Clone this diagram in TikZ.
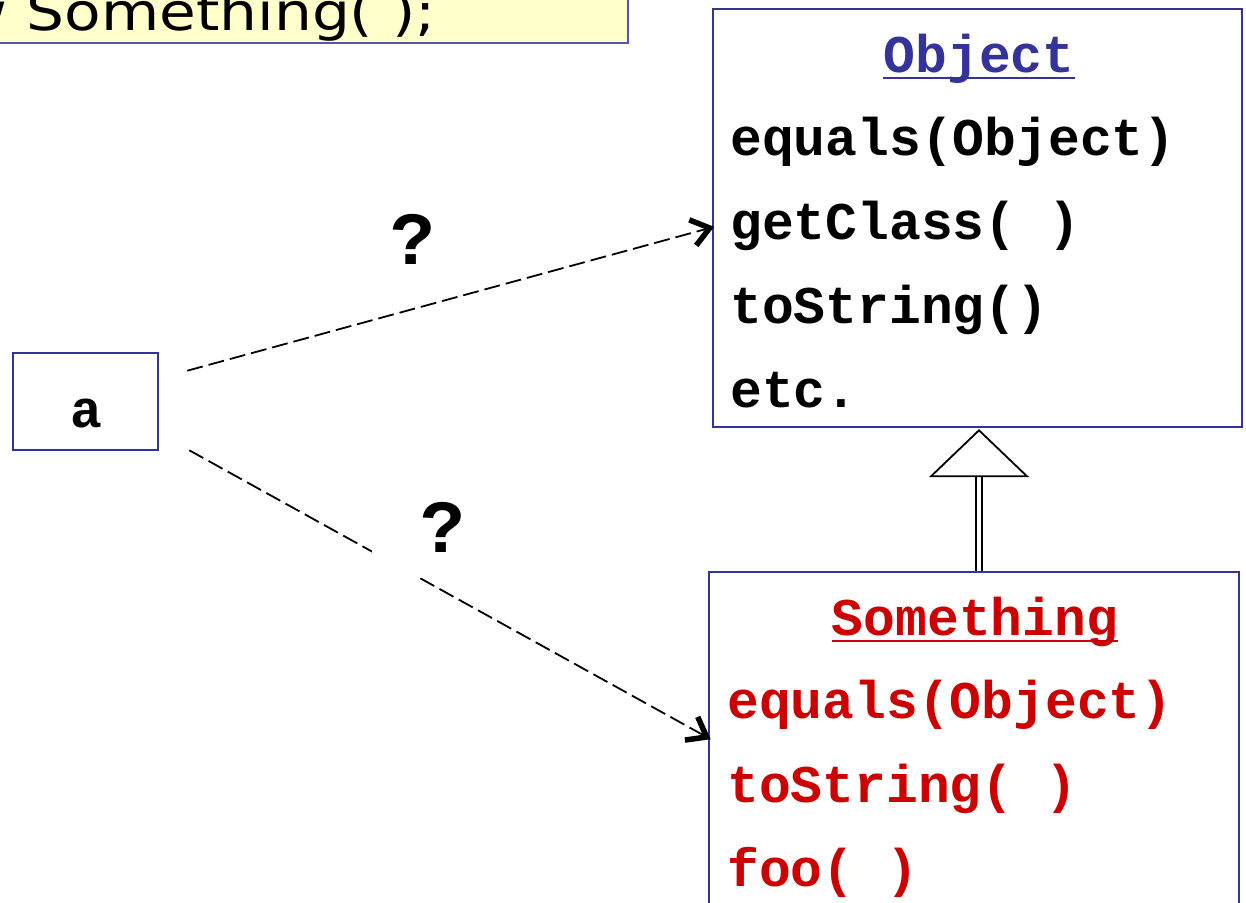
\documentclass[tikz,border=0pt]{standalone}
\usepackage{fontspec}
\setmonofont{Liberation Mono}
\newfontfamily\handfont[FakeStretch=1.15]{DejaVu Sans}
\usetikzlibrary{calc}
\definecolor{umlblue}{HTML}{333399}
\definecolor{umlred}{HTML}{CC0000}
\definecolor{notefill}{HTML}{FFFFCC}
\definecolor{noteline}{HTML}{5555AA}

\begin{document}
\begin{tikzpicture}[x=1pt,y=-1pt,
  classbox/.style={draw=umlblue, line width=2.6pt, fill=white, inner sep=0pt},
  member/.style={font=\fontsize{53}{60}\selectfont\ttfamily\bfseries, inner sep=0pt, anchor=base west},
  classname/.style={member, anchor=base},
  query/.style={font=\fontsize{75}{80}\selectfont\ttfamily\bfseries, inner sep=0pt},
  call/.style={dash pattern=on 16pt off 6pt, line width=1.8pt},
  barb/.style={line width=5.5pt, line join=miter, line cap=butt},
]
\useasboundingbox (0,0) rectangle (1246,902);

% code note (top left)
\node[draw=noteline, fill=notefill, line width=1.6pt, inner sep=0pt,
      minimum width=648pt, minimum height=63pt] (note) at (304,11.5) {};
\node[anchor=base east, inner sep=0pt, font=\handfont\fontsize{52}{60}\selectfont]
      (code) at (436,30) {new Something( );};

% variable a
\node[classbox, minimum width=145pt, minimum height=97pt] (a) at (85.5,401.5) {};
\node[classname] (aname) at (86,427) {a};

% class Object
\node[classbox, minimum width=529pt, minimum height=418pt] (obj) at (977.5,218) {};
\node[classname, text=umlblue] (objname) at (979,72) {Object};
\draw[umlblue, line width=2.8pt] ([shift={(0,6)}]objname.base west) -- ([shift={(0,6)}]objname.base east);
\node[member] (o1) at (730,155) {equals(Object)};
\node[member] (o2) at (730,239) {getClass( )};
\node[member] (o3) at (730,323) {toString()};
\node[member] (o4) at (730,407) {etc.};

% class Something
\node[classbox, minimum width=530pt, minimum height=388pt] (smt) at (974,766) {};
\node[classname, text=umlred] (smtname) at (975,635) {Something};
\draw[umlred, line width=2.8pt] ([shift={(0,6)}]smtname.base west) -- ([shift={(0,6)}]smtname.base east);
\begin{scope}[every node/.append style={text=umlred}]
\node[member] (s1) at (727,718) {equals(Object)};
\node[member] (s2) at (727,802) {toString( )};
\node[member] (s3) at (727,886) {foo( )};
\end{scope}

% inheritance: Something extends Object
\coordinate (htip) at ([shift={(1.5,2)}]obj.south);
\coordinate (hbase) at ([shift={(0,46)}]htip);
\coordinate (hfoot) at (htip |- smt.north);
\draw[double=white, double distance=4.5pt, line width=1.6pt] (hfoot) -- (hbase);
\draw[fill=white, line width=1.8pt, line join=miter]
  (htip) -- ([shift={(-48,0)}]hbase) -- ([shift={(48,0)}]hbase) -- cycle;

% which class does a refer to?
\coordinate (c1s) at ([shift={(28,19)}]a.north east);
\coordinate (c1e) at ([shift={(-2,10)}]obj.west);
\coordinate (c2s) at ([shift={(30,-1)}]a.south east);
\coordinate (c2e) at ([shift={(-1,-29)}]smt.west);

\draw[call] (c1s) -- (c1e);
\draw[barb] ($(c1e)!22pt!37:(c1s)$) -- (c1e) -- ($(c1e)!22pt!-37:(c1s)$);
\node[query] (q1) at (413,239) {?};

\draw[call] (c2s) -- (c2e);
\draw[barb] ($(c2e)!22pt!37:(c2s)$) -- (c2e) -- ($(c2e)!22pt!-37:(c2s)$);
\node[fill=white, inner sep=0pt, minimum width=98pt, minimum height=88pt] (q2back) at (421,534) {};
\node[query] (q2) at (443,527) {?};
\end{tikzpicture}
\end{document}
